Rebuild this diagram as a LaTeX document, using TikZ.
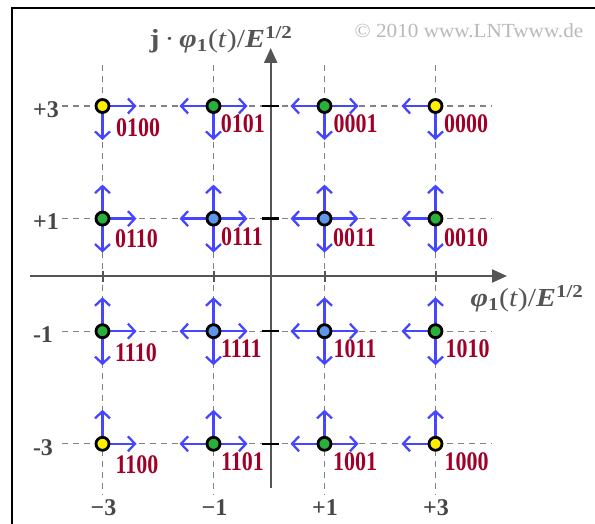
\documentclass[tikz,border=0pt]{standalone}
\usepackage{fontspec}
\setmainfont{Liberation Serif}
\usetikzlibrary{arrows.meta}
\definecolor{bitred}{RGB}{160,0,40}
\definecolor{arrblue}{RGB}{70,70,255}
\definecolor{ptyellow}{RGB}{255,238,0}
\definecolor{ptgreen}{RGB}{40,175,60}
\definecolor{ptblue}{RGB}{95,150,230}
\definecolor{axgray}{RGB}{85,85,85}
\definecolor{labgray}{RGB}{70,70,70}
\definecolor{gridgray}{RGB}{130,130,130}
\definecolor{copygray}{RGB}{185,185,185}
\newcommand{\bi}[1]{{\bfseries\itshape #1}}
\begin{document}
\begin{tikzpicture}[x=1pt,y=-1pt,
  gridline/.style={gridgray, line width=1.2pt, dash pattern=on 6pt off 5pt},
  axisline/.style={axgray, line width=2.2pt, -{Triangle[length=15pt,width=13pt]}},
  vtick/.style={black, line width=2.2pt},
  htick/.style={axgray, line width=2pt},
  arr/.style={arrblue, line width=2.3pt, -{Straight Barb[length=7pt,width=15pt]}},
  pt/.style={circle, draw=black, line width=2.8pt, minimum size=13pt, inner sep=0pt},
  bits/.style={text=bitred, font=\fontsize{22}{22}\selectfont\bfseries, anchor=west, inner sep=0pt},
  ticklab/.style={text=labgray, font=\fontsize{24}{24}\selectfont\bfseries, inner sep=0pt},
  axlab/.style={text=axgray, font=\fontsize{26}{26}\selectfont, inner sep=0pt},
]
\useasboundingbox (0,0) rectangle (595,524);
% frame (top and left)
\draw[line width=2pt] (11.5,524) -- (11.5,8.5) -- (595,8.5);
% copyright
\node[text=copygray, font=\fontsize{20}{20}\selectfont, inner sep=0pt] (copy) at (469,31) {\scalebox{1.06}[1]{© 2010 www.LNTwww.de}};
% grid
\foreach \x in {102.5,213.5,324.5,435.5} \draw[gridline] (\x,65) -- (\x,495);
\foreach \y in {106,218.6,331.2,443.8} \draw[gridline] (62,\y) -- (492,\y);
% axes
\coordinate (xs) at (30,276);
\coordinate (xe) at (507,276);
\coordinate (ys) at (270.7,488);
\coordinate (ye) at (270.7,48);
\draw[axisline] (xs) -- (xe);
\draw[axisline] (ys) -- (ye);
\foreach \y in {106,218.6,331.2,443.8} \draw[vtick] (262,\y) -- (279,\y);
\foreach \x in {102.5,213.5,324.5,435.5} \draw[htick] (\x,271) -- (\x,282);
% axis labels
\node[axlab] (ylab) at (221,40) {\scalebox{1.15}[1]{\textbf{j}\,·\,\bi{φ}\textsubscript{\textbf{1}}(\textit{t})/\bi{E}\textsuperscript{\textbf{1/2}}}};
\node[axlab] (xlab) at (527,299) {\scalebox{1.15}[1]{\bi{φ}\textsubscript{\textbf{1}}(\textit{t})/\bi{E}\textsuperscript{\textbf{1/2}}}};
% tick labels
\node[ticklab] (l3) at (46,110) {+3};
\node[ticklab] (l1) at (46,222) {+1};
\node[ticklab] (lm1) at (43,335) {-1};
\node[ticklab] (lm3) at (43,448) {-3};
\node[ticklab] (bm3) at (103.5,508) {−3};
\node[ticklab] (bm1) at (214.5,508) {−1};
\node[ticklab] (b1) at (325,508) {+1};
\node[ticklab] (b3) at (436,508) {+3};
% arrows
\foreach \i/\x in {0/102.5,1/213.5,2/324.5,3/435.5}{
  \foreach \j/\y in {0/106,1/218.6,2/331.2,3/443.8}{
    \coordinate (c\i\j) at (\x,\y);
    \ifnum\i>0 \draw[arr] (c\i\j) -- ++(-34,0); \fi
    \ifnum\i<3 \draw[arr] (c\i\j) -- ++(34,0); \fi
    \ifnum\j>0 \draw[arr] (c\i\j) -- ++(0,-34); \fi
    \ifnum\j<3 \draw[arr] (c\i\j) -- ++(0,34); \fi
  }
}
% points and bit labels
\foreach \i/\j/\c/\b/\dx/\dy in {
  0/0/ptyellow/0100/13.5/21.5, 1/0/ptgreen/0101/7.2/17.5, 2/0/ptgreen/0001/8.8/18, 3/0/ptyellow/0000/8.5/18,
  0/1/ptgreen/0110/12.5/20.5, 1/1/ptblue/0111/7.5/18.5, 2/1/ptblue/0011/8.5/19, 3/1/ptgreen/0010/8.5/19,
  0/2/ptgreen/1110/12.5/21.3, 1/2/ptblue/1111/7.5/17, 2/2/ptblue/1011/8.8/18, 3/2/ptgreen/1010/10/18,
  0/3/ptyellow/1100/13/20.5, 1/3/ptgreen/1101/7.5/17.5, 2/3/ptgreen/1001/8.5/18, 3/3/ptyellow/1000/9/18}{
  \node[pt, fill=\c] (p\i\j) at (c\i\j) {};
  \node[bits] (t\i\j) at ([shift={(\dx,\dy)}]c\i\j) {\scalebox{1}[1.22]{\b}};
}
\end{tikzpicture}
\end{document}
